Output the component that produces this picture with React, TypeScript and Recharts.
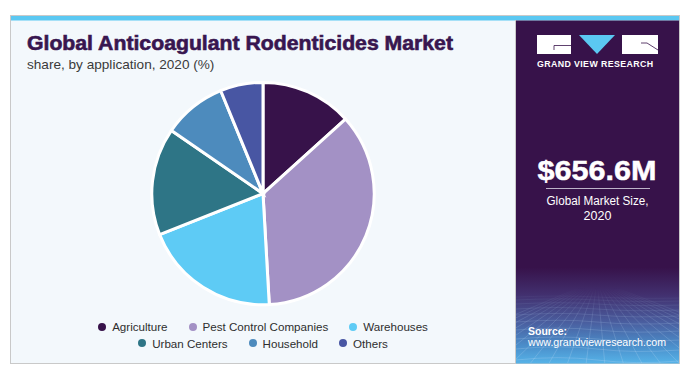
import React from "react";
import { PieChart, Pie, Cell, Legend } from "recharts";

const categories = [
  "Agriculture",
  "Pest Control Companies",
  "Warehouses",
  "Urban Centers",
  "Household",
  "Others",
];
const shares = [13.3, 35.8, 19.9, 15.6, 9.2, 6.2];
const colors = ["#37124a", "#a391c5", "#5ecbf5", "#2e7586", "#4d8bbd", "#4856a3"];

const title = "Global Anticoagulant Rodenticides Market";
const subtitle = "share, by application, 2020 (%)";
const marketValue = "$656.6M";
const marketLabel1 = "Global Market Size,";
const marketLabel2 = "2020";
const sourceLabel = "Source:";
const sourceUrl = "www.grandviewresearch.com";
const brand = "GRAND VIEW RESEARCH";

const data = categories.map((name, i) => ({ name, value: shares[i] }));

const FONT = "'Liberation Sans', Arial, sans-serif";

const LegendContent = () => (
  <div style={{ width: 506, fontFamily: FONT, fontSize: 11.6, color: "#2e2e2e" }}>
    {[0, 3].map((start) => (
      <div
        key={start}
        style={{ display: "flex", justifyContent: "center", alignItems: "center", height: 16.6 }}
      >
        {categories.slice(start, start + 3).map((c, i) => (
          <div
            key={c}
            style={{ display: "flex", alignItems: "center", marginLeft: i ? 21 : 0, whiteSpace: "nowrap" }}
          >
            <span
              style={{
                display: "inline-block",
                width: 8,
                height: 8,
                borderRadius: 4,
                background: colors[start + i],
                marginRight: 6,
              }}
            />
            <span>{c}</span>
          </div>
        ))}
      </div>
    ))}
  </div>
);

const gridH = [297, 300, 304, 309, 315, 322, 330, 339, 349, 360];
const gridV = Array.from({ length: 23 }, (_, i) => 470 + i * 12);

export default function App() {
  return (
    <div
      style={{
        position: "fixed",
        left: 0,
        top: 0,
        width: 700,
        height: 372,
        background: "#ffffff",
        fontFamily: FONT,
        overflow: "hidden",
      }}
    >
      <svg width={700} height={372} style={{ position: "absolute", left: 0, top: 0 }}>
        <defs>
          <linearGradient id="panelGrad" x1="0" y1="0" x2="0" y2="1">
            <stop offset="0" stopColor="#37124a" />
            <stop offset="0.72" stopColor="#37124a" />
            <stop offset="0.8" stopColor="#42306f" />
            <stop offset="0.88" stopColor="#4a5e9f" />
            <stop offset="0.95" stopColor="#4b8fcb" />
            <stop offset="1" stopColor="#56b3e8" />
          </linearGradient>
          <linearGradient id="gridFade" x1="0" y1="0" x2="0" y2="1">
            <stop offset="0" stopColor="#fff" stopOpacity="0" />
            <stop offset="0.4" stopColor="#fff" stopOpacity="0.6" />
            <stop offset="1" stopColor="#fff" stopOpacity="1" />
          </linearGradient>
          <mask id="gridMask">
            <rect x={516} y={288} width={164} height={76} fill="url(#gridFade)" />
          </mask>
          <clipPath id="panelClip">
            <rect x={516} y={20} width={163} height={343} />
          </clipPath>
        </defs>
        {/* card */}
        <rect x={10.5} y={15.5} width={669} height={348} fill="#f3f8fc" stroke="#c9c9c9" strokeWidth={1} />
        <rect x={11} y={16} width={668} height={4.5} fill="#5bc8f2" />
        {/* right panel */}
        <line x1={515.5} y1={20} x2={515.5} y2={363} stroke="#c9c9c9" strokeWidth={1} />
        <rect x={516} y={20.5} width={163} height={343} fill="url(#panelGrad)" />
        <g clipPath="url(#panelClip)" mask="url(#gridMask)" stroke="#b9d6f5" strokeOpacity={0.35} strokeWidth={0.8} fill="none">
          {gridH.map((y, i) => (
            <path key={"h" + i} d={`M516,${y} Q560,${y - 2 - i * 0.3} 597,${y} T680,${y + 1}`} />
          ))}
          {gridV.map((x, i) => (
            <line key={"v" + i} x1={597 + (x - 597) * 0.15} y1={288} x2={x + (x - 597) * 0.6} y2={366} />
          ))}
        </g>
        {/* logo */}
        <rect x={537} y={35} width={34} height={19} fill="#ffffff" />
        <path d="M554,50 V45.5 H571" stroke="#37124a" strokeWidth={0.8} fill="none" />
        <polygon points="579,35 615,35 597,54" fill="#5bc8f2" />
        <rect x={622} y={35} width={36} height={19} fill="#ffffff" />
        <path d="M641,43 H647 L658,50" stroke="#37124a" strokeWidth={0.8} fill="none" />
        <text x={537} y={67} fill="#ffffff" fontFamily={FONT} fontWeight="bold" fontSize={8.8} textLength={116} lengthAdjust="spacing">
          {brand}
        </text>
        {/* title */}
        <text x={27} y={50} fill="#381650" stroke="#381650" strokeWidth={0.6} fontFamily={FONT} fontWeight="bold" fontSize={20} textLength={426} lengthAdjust="spacingAndGlyphs">
          {title}
        </text>
        <text x={27} y={68.7} fill="#3a3a3a" fontFamily={FONT} fontSize={13.6}>
          {subtitle}
        </text>
        {/* market size */}
        <text x={597} y={179.5} fill="#ffffff" stroke="#ffffff" strokeWidth={0.5} fontFamily={FONT} fontWeight="bold" fontSize={28} textAnchor="middle" textLength={119} lengthAdjust="spacingAndGlyphs">
          {marketValue}
        </text>
        <line x1={546} y1={188.5} x2={650} y2={188.5} stroke="#bdb3c9" strokeWidth={1} />
        <text x={597.5} y={205} fill="#ffffff" fontFamily={FONT} fontSize={12.5} textAnchor="middle" textLength={102} lengthAdjust="spacingAndGlyphs">
          {marketLabel1}
        </text>
        <text x={597.5} y={219.5} fill="#ffffff" fontFamily={FONT} fontSize={12.5} textAnchor="middle">
          {marketLabel2}
        </text>
        {/* source */}
        <text x={528} y={334.5} fill="#ffffff" fontFamily={FONT} fontWeight="bold" fontSize={10.5}>
          {sourceLabel}
        </text>
        <text x={528} y={345.5} fill="#ffffff" fontFamily={FONT} fontSize={11} textLength={138} lengthAdjust="spacingAndGlyphs">
          {sourceUrl}
        </text>
      </svg>
      <div style={{ position: "absolute", left: 10, top: 20 }}>
        <PieChart width={506} height={343} margin={{ top: 0, right: 0, bottom: 0, left: 0 }}>
          <Pie
            data={data}
            dataKey="value"
            nameKey="name"
            cx={253}
            cy={173.6}
            outerRadius={111.2}
            startAngle={90}
            endAngle={-270}
            stroke="#ffffff"
            strokeWidth={3}
            isAnimationActive={false}
          >
            {data.map((d, i) => (
              <Cell key={d.name} fill={colors[i]} />
            ))}
          </Pie>
          <Legend
            content={LegendContent}
            wrapperStyle={{ left: 0, top: 298.4, width: 506, bottom: "auto" }}
          />
        </PieChart>
      </div>
    </div>
  );
}
